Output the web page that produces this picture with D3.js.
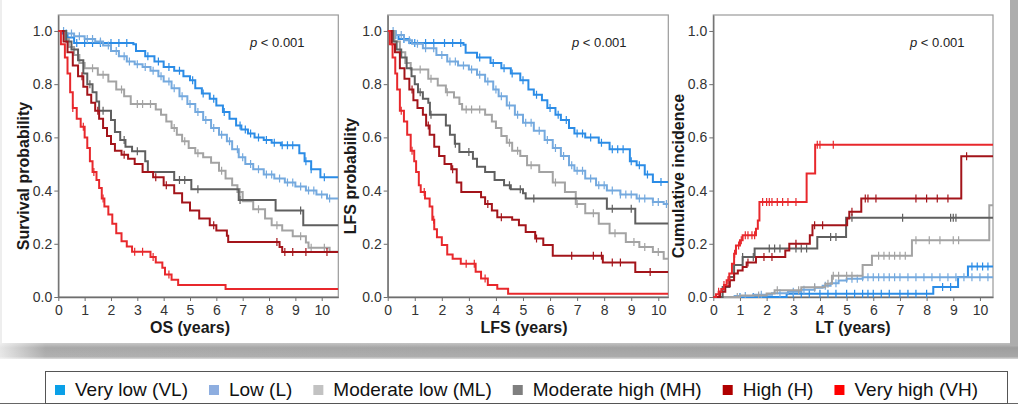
<!DOCTYPE html>
<html><head><meta charset="utf-8">
<script src="https://cdn.jsdelivr.net/npm/d3@7"></script>
<style>body{margin:0;background:#fff;} svg{display:block;font-family:"Liberation Sans",Arial,Helvetica,sans-serif;}</style>
</head><body><svg id="c" width="1018" height="406"></svg>
<script>
// ---------- DATA ----------
const groupKeys = ["VL", "L", "ML", "MH", "H", "VH"];
const legendLabels = ["Very low (VL)", "Low (L)", "Moderate low (ML)", "Moderate high (MH)", "High (H)", "Very high (VH)"];
const yTicks = [0, 0.2, 0.4, 0.6, 0.8, 1.0];
const xTicks = [0, 1, 2, 3, 4, 5, 6, 7, 8, 9, 10];
const pLabel = "< 0.001";

// OS (years) – survival probability, [time, value] step points
const osVL = [[0,1],[0.15,0.99],[0.35,0.975],[0.6,0.955],[2.85,0.95],[2.95,0.925],[3.3,0.905],[3.65,0.885],[4.0,0.865],[4.4,0.85],[4.75,0.83],[5.0,0.815],[5.2,0.785],[5.45,0.765],[5.75,0.745],[6.0,0.72],[6.25,0.695],[6.5,0.67],[6.75,0.645],[6.95,0.63],[7.2,0.615],[7.45,0.6],[7.8,0.59],[8.1,0.58],[8.45,0.57],[9.15,0.54],[9.35,0.51],[9.6,0.48],[9.95,0.45]];
const osL = [[0,1],[0.3,0.99],[0.6,0.98],[1.0,0.97],[1.4,0.96],[1.7,0.945],[2.0,0.925],[2.3,0.905],[2.6,0.885],[2.9,0.875],[3.2,0.865],[3.5,0.85],[3.8,0.83],[4.0,0.81],[4.3,0.785],[4.6,0.755],[4.9,0.725],[5.2,0.695],[5.5,0.665],[5.8,0.635],[6.1,0.61],[6.4,0.585],[6.6,0.555],[6.85,0.525],[7.1,0.5],[7.4,0.48],[7.8,0.46],[8.2,0.445],[8.6,0.43],[9.0,0.415],[9.4,0.4],[9.8,0.385],[10.2,0.37]];
const osML = [[0,1],[0.25,0.97],[0.4,0.94],[0.6,0.91],[0.8,0.88],[1.0,0.86],[1.5,0.835],[1.9,0.81],[2.2,0.78],[2.5,0.755],[2.75,0.725],[3.7,0.705],[3.9,0.685],[4.1,0.66],[4.3,0.635],[4.5,0.61],[4.7,0.585],[4.95,0.56],[5.2,0.54],[5.5,0.525],[5.8,0.505],[6.1,0.475],[6.35,0.445],[6.6,0.42],[6.8,0.395],[7.0,0.36],[7.4,0.33],[7.85,0.295],[8.1,0.27],[8.5,0.25],[8.9,0.228],[9.4,0.205],[9.5,0.185],[10.3,0.17]];
const osMH = [[0,1],[0.3,0.96],[0.5,0.93],[0.75,0.89],[0.95,0.84],[1.1,0.8],[1.3,0.77],[1.45,0.735],[1.55,0.7],[2.0,0.665],[2.15,0.62],[2.35,0.59],[2.55,0.565],[2.8,0.548],[3.3,0.51],[3.4,0.47],[4.4,0.44],[5.05,0.405],[6.85,0.365],[8.25,0.325],[9.3,0.27]];
const osH = [[0,1],[0.2,0.96],[0.35,0.92],[0.55,0.87],[0.75,0.83],[0.95,0.79],[1.1,0.76],[1.25,0.73],[1.4,0.7],[1.55,0.67],[1.7,0.635],[1.85,0.605],[2.0,0.575],[2.15,0.55],[2.4,0.535],[2.65,0.52],[2.9,0.5],[3.2,0.47],[3.6,0.45],[4.0,0.42],[4.4,0.39],[4.7,0.355],[5.0,0.325],[5.35,0.295],[5.75,0.27],[6.0,0.25],[6.4,0.23],[6.45,0.207],[8.4,0.188],[8.5,0.169]];
const osVH = [[0,1],[0.1,0.95],[0.25,0.9],[0.35,0.84],[0.45,0.77],[0.55,0.71],[0.7,0.67],[0.85,0.64],[1.0,0.6],[1.1,0.56],[1.2,0.51],[1.3,0.47],[1.45,0.44],[1.55,0.41],[1.65,0.37],[1.75,0.34],[1.9,0.31],[2.05,0.275],[2.2,0.24],[2.4,0.21],[2.6,0.19],[2.8,0.17],[3.5,0.15],[3.7,0.13],[3.95,0.11],[4.05,0.085],[4.3,0.065],[4.55,0.045],[6.35,0.03]];

// LFS (years) – LFS probability
const lfsVL = [[0,1],[0.2,0.985],[0.4,0.97],[0.8,0.955],[2.8,0.948],[2.88,0.918],[3.3,0.9],[3.8,0.88],[4.2,0.86],[4.55,0.84],[4.9,0.815],[5.2,0.78],[5.4,0.76],[5.7,0.74],[5.9,0.71],[6.2,0.685],[6.4,0.665],[6.7,0.635],[6.9,0.615],[7.3,0.6],[7.8,0.58],[8.2,0.555],[8.95,0.51],[9.2,0.495],[9.5,0.46],[9.8,0.432]];
const lfsL = [[0,1],[0.3,0.985],[0.6,0.965],[0.9,0.952],[1.3,0.935],[1.8,0.91],[2.2,0.885],[2.6,0.87],[3.0,0.855],[3.3,0.835],[3.6,0.81],[3.9,0.78],[4.1,0.755],[4.4,0.72],[4.7,0.685],[5.0,0.655],[5.4,0.625],[5.8,0.59],[6.1,0.56],[6.4,0.53],[6.7,0.495],[6.9,0.475],[7.3,0.445],[7.7,0.42],[8.1,0.4],[8.6,0.385],[9.2,0.37],[9.8,0.357],[10.2,0.35]];
const lfsML = [[0,1],[0.25,0.96],[0.45,0.92],[0.65,0.88],[0.85,0.855],[1.5,0.82],[1.85,0.795],[2.15,0.77],[2.45,0.75],[2.65,0.725],[2.75,0.705],[3.6,0.685],[3.85,0.66],[4.0,0.635],[4.2,0.605],[4.4,0.58],[4.6,0.55],[4.9,0.53],[5.15,0.495],[5.6,0.47],[6.1,0.43],[6.55,0.395],[6.95,0.35],[7.3,0.315],[7.8,0.275],[8.2,0.24],[8.8,0.207],[9.3,0.188],[9.8,0.169],[10.2,0.144]];
const lfsMH = [[0,1],[0.2,0.96],[0.33,0.93],[0.5,0.9],[0.7,0.86],[0.88,0.83],[1.0,0.8],[1.12,0.77],[1.3,0.745],[1.5,0.73],[1.56,0.685],[2.15,0.645],[2.3,0.61],[2.48,0.576],[2.65,0.545],[3.15,0.52],[3.3,0.49],[3.6,0.47],[3.95,0.44],[4.3,0.42],[4.55,0.405],[5.0,0.39],[5.1,0.37],[8.1,0.332],[9.15,0.276]];
const lfsH = [[0,1],[0.15,0.95],[0.27,0.92],[0.45,0.86],[0.62,0.82],[0.8,0.78],[0.95,0.74],[1.1,0.71],[1.3,0.685],[1.42,0.645],[1.55,0.61],[1.72,0.565],[1.9,0.53],[2.1,0.5],[2.35,0.48],[2.55,0.43],[2.72,0.395],[3.45,0.375],[3.6,0.35],[3.85,0.325],[4.05,0.3],[4.6,0.29],[4.85,0.27],[5.1,0.244],[5.45,0.22],[5.75,0.195],[6.1,0.155],[7.95,0.13],[9.15,0.094]];
const lfsVH = [[0,1],[0.08,0.95],[0.18,0.9],[0.28,0.84],[0.35,0.78],[0.45,0.7],[0.6,0.66],[0.72,0.61],[0.85,0.55],[0.98,0.51],[1.05,0.47],[1.15,0.42],[1.22,0.395],[1.38,0.37],[1.55,0.34],[1.65,0.29],[1.72,0.255],[1.82,0.225],[2.0,0.195],[2.2,0.16],[2.4,0.144],[2.7,0.125],[3.25,0.095],[3.45,0.07],[3.7,0.045],[4.05,0.031],[4.45,0.0125]];

// LT (years) – cumulative incidence
const ltVL = [[0,0],[2.75,0.0125],[8.25,0.038],[9.18,0.075],[9.55,0.115]];
const ltL = [[0,0],[0.8,0.004],[1.5,0.008],[2.2,0.014],[2.8,0.02],[3.3,0.027],[3.8,0.035],[4.1,0.042],[4.4,0.052],[4.7,0.062],[5.0,0.069],[5.6,0.074]];
const ltML = [[0,0],[1.0,0.006],[2.0,0.013],[2.3,0.025],[3.3,0.037],[4.2,0.05],[4.45,0.08],[5.6,0.12],[5.95,0.155],[7.45,0.213],[10.35,0.345]];
const ltMH = [[0,0],[0.35,0.038],[0.6,0.075],[0.78,0.12],[1.1,0.15],[1.55,0.182],[3.9,0.226],[4.98,0.298]];
const ltH = [[0,0],[0.25,0.02],[0.45,0.04],[0.62,0.063],[0.78,0.088],[0.92,0.1],[1.1,0.113],[1.25,0.13],[1.6,0.15],[2.7,0.175],[2.85,0.2],[3.62,0.232],[3.72,0.27],[5.02,0.295],[5.1,0.32],[5.55,0.37],[9.3,0.529]];
const ltVH = [[0,0],[0.1,0.01],[0.2,0.02],[0.3,0.03],[0.4,0.045],[0.5,0.063],[0.6,0.088],[0.7,0.125],[0.78,0.163],[0.85,0.194],[1.0,0.213],[1.1,0.232],[1.6,0.257],[1.67,0.288],[1.73,0.357],[3.5,0.464],[3.82,0.572]];

// censoring times (years)
const osCensVL = [0.3,0.7,1.0,1.3,1.6,2.0,2.3,2.6,3.4,3.8,4.2,4.6,5.1,5.5,5.9,6.3,6.9,7.1,7.3,7.6,7.9,8.2,8.5,8.7,8.9,9.4,9.6,10.1];
const osCensL = [0.2,0.5,0.8,1.1,1.3,1.6,1.9,2.2,2.5,2.7,3.0,3.3,3.6,3.9,4.2,4.4,4.7,5.0,5.3,5.6,5.9,6.2,6.5,6.8,7.0,7.3,7.6,7.9,8.1,8.4,8.7,8.9,9.2,9.5,9.7,10.0,10.3];
const osCensML = [1.3,1.7,2.4,3.0,3.2,3.5,4.4,4.8,5.3,6.2,6.9,7.6,8.3,9.2,9.6,10.1];
const osCensMH = [1.2,1.7,2.5,3.0,4.6,4.8,5.3,6.9,9.2];
const osCensH = [0.9,1.5,2.5,3.7,4.1,5.9,8.3,8.6,8.9,9.4,10.2];
const osCensVH = [0.55,0.95,1.35,1.7,2.9,3.2,3.6,4.2];

const lfsCensVL = [0.3,0.6,1.0,1.4,1.7,2.1,2.4,2.7,3.4,3.9,4.3,4.6,5.0,5.5,6.0,6.3,6.6,7.0,7.2,7.5,7.9,8.3,8.5,8.7,9.0,9.3,9.6,10.1];
const lfsCensL = [0.2,0.5,0.8,1.1,1.4,1.7,2.0,2.3,2.5,2.8,3.1,3.4,3.7,4.0,4.2,4.5,4.8,5.1,5.3,5.6,5.9,6.2,6.5,6.8,7.0,7.2,7.5,7.8,8.0,8.3,8.6,8.8,9.0,9.3,9.5,9.8,10.0,10.3];
const lfsCensML = [1.2,1.6,2.2,2.9,3.1,3.4,4.5,4.8,5.3,6.2,7.0,7.6,8.4,9.1,9.5,10.0];
const lfsCensMH = [1.2,1.6,2.5,3.0,4.5,4.9,5.4,8.3,9.0];
const lfsCensH = [0.9,1.5,2.4,3.7,4.2,5.5,6.8,7.6,7.9,8.3,8.6,9.7];
const lfsCensVH = [0.5,0.9,1.35,1.7,2.9,3.2,3.6];

const ltCensVL = [1.0,1.5,2.0,3.0,3.3,3.6,4.0,4.3,4.6,5.0,5.3,5.6,5.8,6.0,6.3,6.6,7.0,7.3,7.6,8.0,8.6,8.9,9.7,9.9,10.1,10.3];
const ltCensL = [1.2,1.8,2.5,3.0,3.4,3.8,4.2,4.6,5.0,5.2,5.4,5.6,5.8,6.0,6.2,6.4,6.6,6.8,7.0,7.3,7.6,7.9,8.2,8.5,8.8,9.1,9.4,9.7,10.0,10.3];
const ltCensML = [0.9,1.7,2.4,3.2,3.8,4.3,4.5,4.7,5.0,5.2,6.2,6.4,6.6,6.8,7.0,7.2,7.6,8.1,8.5,9.0,9.2];
const ltCensMH = [1.1,1.5,2.1,2.3,2.5,3.1,3.3,3.5,4.4,4.6,5.2,7.1,8.9,9.0,9.1];
const ltCensH = [1.3,1.9,2.2,3.1,3.8,4.1,5.2,5.7,5.8,6.1,7.6,8.0,8.4,8.8,9.5];
const ltCensVH = [0.2,0.4,0.55,0.8,0.95,1.05,1.2,1.3,1.45,1.55,1.85,2.0,2.1,2.2,2.4,2.6,2.8,3.1,3.9,4.0,4.5];

// ---------- STYLES ----------
const lineColors = ["#2b8ce6", "#74a9de", "#a3a3a3", "#5f5f5f", "#a3141a", "#e8282c"];
const legendColors = ["#0aa0e8", "#8eaee0", "#c2c2c2", "#7f7f7f", "#b00000", "#ff0000"];

const panels = [
  { curves:[osVL,osL,osML,osMH,osH,osVH], cens:[osCensVL,osCensL,osCensML,osCensMH,osCensH,osCensVH],
    left:58.3, right:338.3, xMax:10.63, yTitle:"Survival probability", xTitle:"OS (years)", yTitleX:23, xTitleX:190, pX:250 },
  { curves:[lfsVL,lfsL,lfsML,lfsMH,lfsH,lfsVH], cens:[lfsCensVL,lfsCensL,lfsCensML,lfsCensMH,lfsCensH,lfsCensVH],
    left:387.7, right:668.3, xMax:10.37, yTitle:"LFS probability", xTitle:"LFS (years)", yTitleX:350, xTitleX:524, pX:572 },
  { curves:[ltVL,ltL,ltML,ltMH,ltH,ltVH], cens:[ltCensVL,ltCensL,ltCensML,ltCensMH,ltCensH,ltCensVH],
    left:713.3, right:993, xMax:10.49, yTitle:"Cumulative incidence", xTitle:"LT (years)", yTitleX:678, xTitleX:853, pX:910 }
];

const svg = d3.select("#c");
const defs = svg.append("defs");

// ---------- card shadow ----------
const gb = defs.append("linearGradient").attr("id","shB").attr("x1",0).attr("x2",1).attr("y1",0).attr("y2",0);
gb.append("stop").attr("offset",0).attr("stop-color","#e6e6e6");
gb.append("stop").attr("offset",0.045).attr("stop-color","#a8a8a8");
gb.append("stop").attr("offset",1).attr("stop-color","#9e9e9e");
const gv = defs.append("linearGradient").attr("id","shV").attr("x1",0).attr("x2",0).attr("y1",0).attr("y2",1);
gv.append("stop").attr("offset",0).attr("stop-color","#ffffff").attr("stop-opacity",0.35);
gv.append("stop").attr("offset",0.3).attr("stop-color","#ffffff").attr("stop-opacity",0);
gv.append("stop").attr("offset",0.85).attr("stop-color","#ffffff").attr("stop-opacity",0.1);
gv.append("stop").attr("offset",1).attr("stop-color","#ffffff").attr("stop-opacity",0.6);
svg.append("rect").attr("x",0).attr("y",343).attr("width",1018).attr("height",16).attr("fill","url(#shB)");
svg.append("rect").attr("x",0).attr("y",343).attr("width",1018).attr("height",16).attr("fill","url(#shV)");
svg.append("rect").attr("x",1010).attr("y",0).attr("width",8).attr("height",345).attr("fill","#adadad");
svg.append("rect").attr("x",0).attr("y",0).attr("width",2).attr("height",343).attr("fill","#eeeeee");

// ---------- panels ----------
const yTop = 15, yBot = 297;
function stepVal(curve, t){ let v = curve[0][1]; for (const p of curve){ if (p[0] <= t) v = p[1]; else break; } return v; }

panels.forEach((P, pi) => {
  const x = d3.scaleLinear().domain([0, P.xMax]).range([P.left, P.right]);
  const y = d3.scaleLinear().domain([0, 1.06]).range([yBot, yTop]);
  const g = svg.append("g");
  const clipId = "clip" + pi;
  defs.append("clipPath").attr("id", clipId).append("rect")
    .attr("x", P.left).attr("y", yTop).attr("width", P.right - P.left).attr("height", yBot - yTop + 1);

  g.append("rect").attr("x", P.left).attr("y", yTop).attr("width", P.right - P.left).attr("height", yBot - yTop)
    .attr("fill", "#fff").attr("stroke", "#9a9a9a").attr("stroke-width", 1.2);

  const ya = g.append("g").attr("transform", `translate(${P.left},0)`)
    .call(d3.axisLeft(y).tickValues(yTicks).tickFormat(d3.format(".1f")).tickSize(4).tickPadding(2).tickSizeOuter(0));
  const xa = g.append("g").attr("transform", `translate(0,${yBot})`)
    .call(d3.axisBottom(x).tickValues(xTicks).tickFormat(d3.format("d")).tickSize(4).tickPadding(4).tickSizeOuter(0));
  [ya, xa].forEach(a => {
    a.selectAll("path").attr("stroke", "#6e6e6e").attr("stroke-width", 1.3);
    a.selectAll("line").attr("stroke", "#6e6e6e").attr("stroke-width", 1);
    a.selectAll("text").attr("fill", "#333").attr("font-size", 14).attr("font-family", "Liberation Sans, Arial, sans-serif");
  });

  const plot = g.append("g").attr("clip-path", `url(#${clipId})`);
  const line = d3.line().x(d => x(d[0])).y(d => y(d[1])).curve(d3.curveStepAfter);
  P.curves.forEach((c, i) => {
    const pts = c.concat([[P.xMax, c[c.length - 1][1]]]);
    plot.append("path").datum(pts).attr("d", line).attr("fill", "none")
      .attr("stroke", lineColors[i]).attr("stroke-width", 2);
    plot.selectAll(null).data(P.cens[i]).enter().append("line")
      .attr("x1", t => x(t)).attr("x2", t => x(t))
      .attr("y1", t => y(stepVal(c, t)) - 4).attr("y2", t => y(stepVal(c, t)) + 4)
      .attr("stroke", lineColors[i]).attr("stroke-width", 1.2);
  });

  // titles
  g.append("text").attr("transform", `translate(${P.yTitleX},${(yTop + yBot) / 2 + 20}) rotate(-90)`)
    .attr("text-anchor", "middle").attr("dominant-baseline", "central")
    .attr("font-size", 16).attr("font-weight", "bold").attr("fill", "#1a1a1a").text(P.yTitle);
  g.append("text").attr("x", P.xTitleX).attr("y", 333).attr("text-anchor", "middle")
    .attr("font-size", 16).attr("font-weight", "bold").attr("fill", "#1a1a1a").text(P.xTitle);
  const pt = g.append("text").attr("x", P.pX).attr("y", 47).attr("font-size", 13).attr("fill", "#222");
  pt.append("tspan").attr("font-style", "italic").text("p");
  pt.append("tspan").text(" " + pLabel);
});

// ---------- legend ----------
svg.append("line").attr("x1", 0).attr("x2", 1018).attr("y1", 403.5).attr("y2", 403.5).attr("stroke", "#666").attr("stroke-width", 1);
svg.append("rect").attr("x", 45.5).attr("y", 371.5).attr("width", 962).attr("height", 32)
  .attr("fill", "#fff").attr("stroke", "#555").attr("stroke-width", 1);
const lg = svg.append("g");
const items = legendLabels.map((lab, i) => {
  const it = lg.append("g");
  it.append("rect").attr("width", 10).attr("height", 10).attr("y", 385).attr("fill", legendColors[i]);
  const t = it.append("text").attr("y", 396).attr("font-size", 19).attr("fill", "#111").text(lab);
  return { it, t, w: t.node().getComputedTextLength() };
});
const startX = 55, endX = 978, sqGap = 20;
const totalW = d3.sum(items, d => sqGap + d.w);
const gap = (endX - startX - totalW) / (items.length - 1);
let cx = startX;
items.forEach(d => {
  d.it.select("rect").attr("x", cx);
  d.t.attr("x", cx + sqGap);
  cx += sqGap + d.w + gap;
});
</script>
</body></html>
